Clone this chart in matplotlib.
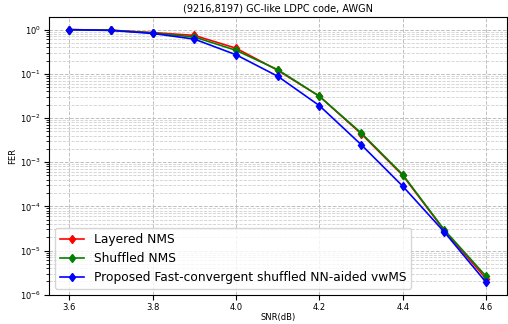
import matplotlib
matplotlib.use("Agg")
import matplotlib.pyplot as plt

snr = [3.6, 3.7, 3.8, 3.9, 4.0, 4.1, 4.2, 4.3, 4.4, 4.5, 4.6]
layered = [1.0, 0.97, 0.86, 0.74, 0.38, 0.12, 0.031, 0.0044, 0.00050, 2.8e-5, 2.3e-6]
shuffled = [1.0, 0.97, 0.84, 0.68, 0.34, 0.124, 0.031, 0.0046, 0.00052, 2.9e-5, 2.6e-6]
proposed = [1.0, 0.96, 0.82, 0.61, 0.27, 0.088, 0.019, 0.0025, 0.000285, 2.6e-5, 1.9e-6]
labels = ["Layered NMS", "Shuffled NMS", "Proposed Fast-convergent shuffled NN-aided vwMS"]

fig = plt.figure(figsize=(5.08, 3.24), dpi=100)
ax = fig.add_axes([0.0955, 0.0895, 0.9025, 0.858])
ax.semilogy(snr, layered, 'r-d', markersize=4.5, linewidth=1.2, label=labels[0])
ax.semilogy(snr, shuffled, 'g-d', markersize=4.5, linewidth=1.2, label=labels[1])
ax.semilogy(snr, proposed, 'b-d', markersize=4.5, linewidth=1.2, label=labels[2])
ax.grid(True, which='major', linestyle='--', color='#c0c0c0', linewidth=0.7)
ax.grid(True, which='minor', linestyle='--', color='#d0d0d0', linewidth=0.6)
ax.set_title("(9216,8197) GC-like LDPC code, AWGN", fontsize=7, pad=4)
ax.set_xlabel("SNR(dB)", fontsize=6, labelpad=1)
ax.set_ylabel("FER", fontsize=6, labelpad=2)
ax.tick_params(labelsize=6, pad=2)
ax.legend(loc='lower left', fontsize=8.8)
fig.savefig("out.png", dpi=100)
